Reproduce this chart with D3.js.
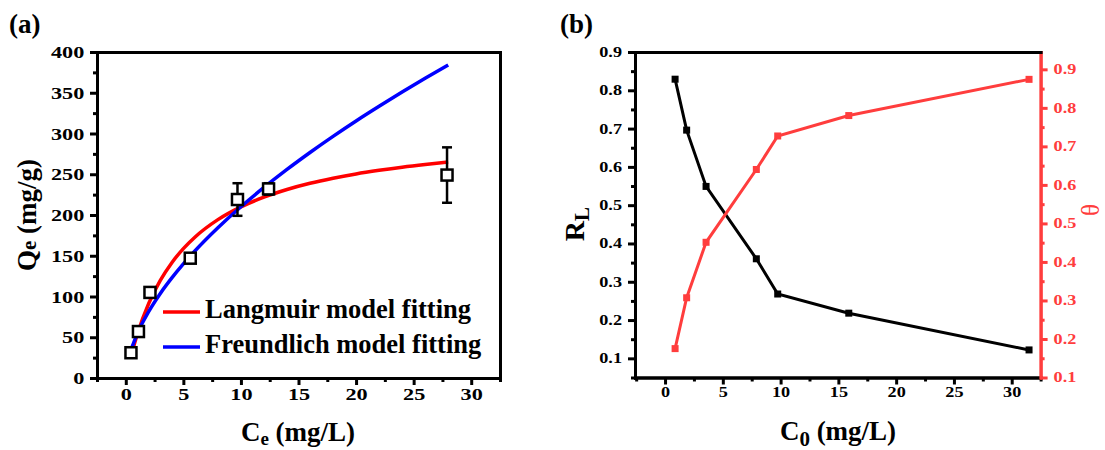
<!DOCTYPE html>
<html>
<head>
<meta charset="utf-8">
<style>
  body { margin: 0; background: #fff; }
  text { font-family: "Liberation Serif", "Times New Roman", serif; font-weight: bold; }
  .axis path, .axis line { stroke-width: 3; }
  .axis path { stroke-linecap: square; }
</style>
</head>
<body>
<script src="https://cdn.jsdelivr.net/npm/d3@7/dist/d3.min.js"></script>
<script>

  // (a) adsorption isotherm: measured points and fitted curves
  var ceObs = [0.45, 1.1, 2.1, 5.6, 9.7, 12.4, 27.9];
  var qeObs = [31, 57, 105, 147, 219, 232, 249];
  var qeErr = [4, 5, 4, 5, 20, 7, 34];

  var fitCe = [0.5, 1, 2, 3, 4, 5, 6, 8, 10, 12, 14, 16, 18, 20, 22, 24, 26, 28];
  var langmuirQe = [29.5, 53.8, 91.7, 119.8, 141.5, 158.8, 172.8, 194.3, 210, 221.9, 231.3, 238.9, 245.1, 250.4, 254.8, 258.7, 262, 264.9];
  var freundlichQe = [36.3, 54.5, 81.8, 103.8, 122.8, 140, 155.8, 184.3, 210.1, 233.8, 255.9, 276.7, 296.5, 315.4, 333.4, 350.9, 367.8, 384.1];

  var xTicksA = [0, 5, 10, 15, 20, 25, 30];
  var yTicksA = [0, 50, 100, 150, 200, 250, 300, 350, 400];

  // (b) separation factor and surface coverage
  var c0 = [0.87, 1.87, 3.55, 7.9, 9.75, 15.9, 31.5];
  var rl = [0.829, 0.696, 0.549, 0.36, 0.268, 0.218, 0.122];
  var theta = [0.175, 0.307, 0.451, 0.64, 0.727, 0.78, 0.874];

  var xTicksB = [0, 5, 10, 15, 20, 25, 30];
  var yTicksB = [0.1, 0.2, 0.3, 0.4, 0.5, 0.6, 0.7, 0.8, 0.9];

  var red = "#ff3d3d";

  var svg = d3.select("body")
      .append("svg")
      .attr("width", 1105)
      .attr("height", 450);

  function range(a, b, step) {
    return d3.range(a, b + step / 2, step);
  }

  // draws one axis with major and minor ticks, labels are stretched sideways like the original
  function drawAxis(g, axisFn, scale, majors, minors, fmt, fontSize, sx, color) {
    var major = g.append("g").attr("class", "axis")
        .call(axisFn(scale).tickValues(majors).tickSize(7).tickSizeOuter(0).tickPadding(3).tickFormat(fmt));
    var minor = g.append("g").attr("class", "axis")
        .call(axisFn(scale).tickValues(minors).tickSize(4).tickSizeOuter(0).tickFormat(""));
    [major, minor].forEach(function (a) {
      a.selectAll("path, line").attr("stroke", color || "#000");
    });
    major.selectAll("text")
        .attr("font-size", fontSize)
        .attr("fill", color || "#000")
        .attr("font-family", null)
        .attr("transform", "scale(" + sx + ",1)");
    return major;
  }

  // ---------- panel (a) ----------
  var xA = d3.scaleLinear().domain([-2.5, 32.5]).range([97, 500]);
  var yA = d3.scaleLinear().domain([0, 400]).range([378, 52]);

  var pa = svg.append("g");

  pa.append("text").attr("x", 9).attr("y", 33).attr("font-size", 27).text("(a)");

  var line = d3.line()
      .x(function (d) { return xA(d[0]); })
      .y(function (d) { return yA(d[1]); })
      .curve(d3.curveMonotoneX);

  pa.append("path")
      .datum(d3.zip(fitCe, langmuirQe))
      .attr("d", line)
      .attr("fill", "none")
      .attr("stroke", "#ff0000")
      .attr("stroke-width", 3.5);

  pa.append("path")
      .datum(d3.zip(fitCe, freundlichQe))
      .attr("d", line)
      .attr("fill", "none")
      .attr("stroke", "#0000ff")
      .attr("stroke-width", 3.5);

  var obs = d3.zip(ceObs, qeObs, qeErr);

  var err = pa.append("g").selectAll("g")
      .data(obs)
      .enter()
      .append("g")
      .attr("stroke", "#000")
      .attr("stroke-width", 2.5);

  err.append("line")
      .attr("x1", function (d) { return xA(d[0]); })
      .attr("x2", function (d) { return xA(d[0]); })
      .attr("y1", function (d) { return yA(d[1] - d[2]); })
      .attr("y2", function (d) { return yA(d[1] + d[2]); });

  [-1, 1].forEach(function (s) {
    err.append("line")
        .attr("x1", function (d) { return xA(d[0]) - 5; })
        .attr("x2", function (d) { return xA(d[0]) + 5; })
        .attr("y1", function (d) { return yA(d[1] + s * d[2]); })
        .attr("y2", function (d) { return yA(d[1] + s * d[2]); });
  });

  pa.append("g").selectAll("rect")
      .data(obs)
      .enter()
      .append("rect")
      .attr("x", function (d) { return xA(d[0]) - 5.5; })
      .attr("y", function (d) { return yA(d[1]) - 5.5; })
      .attr("width", 11)
      .attr("height", 11)
      .attr("fill", "#fff")
      .attr("stroke", "#000")
      .attr("stroke-width", 2.5);

  drawAxis(pa.append("g").attr("transform", "translate(0," + yA(0) + ")"),
      d3.axisBottom, xA, xTicksA, range(-2.5, 32.5, 2.5).filter(function (v) { return v % 5 !== 0; }),
      d3.format("d"), 17.5, 1.27);
  drawAxis(pa.append("g").attr("transform", "translate(" + xA(-2.5) + ",0)"),
      d3.axisLeft, yA, yTicksA, range(25, 375, 50), d3.format("d"), 17.5, 1.27);
  pa.append("g").attr("class", "axis").attr("transform", "translate(0," + yA(400) + ")")
      .call(d3.axisTop(xA).tickValues([]).tickSizeOuter(0));
  pa.append("g").attr("class", "axis").attr("transform", "translate(" + xA(32.5) + ",0)")
      .call(d3.axisRight(yA).tickValues([]).tickSizeOuter(0));

  // legend
  var legA = [["Langmuir model fitting", "#ff0000", 312], ["Freundlich model fitting", "#0000ff", 347]];
  legA.forEach(function (l) {
    pa.append("line").attr("x1", 163).attr("x2", 200).attr("y1", l[2]).attr("y2", l[2])
        .attr("stroke", l[1]).attr("stroke-width", 3.5);
    pa.append("text").attr("x", 205).attr("y", l[2] + 6).attr("font-size", 26.5).text(l[0]);
  });

  var xtA = pa.append("text").attr("x", 298).attr("y", 441).attr("font-size", 27).attr("text-anchor", "middle");
  xtA.append("tspan").text("C");
  xtA.append("tspan").attr("font-size", 19).attr("dy", 4).text("e");
  xtA.append("tspan").attr("dy", -4).text(" (mg/L)");

  var ytA = pa.append("text").attr("transform", "translate(36,215) rotate(-90)")
      .attr("font-size", 27).attr("text-anchor", "middle");
  ytA.append("tspan").text("Q");
  ytA.append("tspan").attr("font-size", 21).text("e");
  ytA.append("tspan").text(" (mg/g)");

  // ---------- panel (b) ----------
  var xB = d3.scaleLinear().domain([-2.6, 32.5]).range([635, 1040.6]);
  var yL = d3.scaleLinear().domain([0.05, 0.9]).range([377.5, 52]);
  var yR = d3.scaleLinear().domain([0.1, 0.945]).range([377.5, 52]);

  var pb = svg.append("g");

  pb.append("text").attr("x", 560).attr("y", 33).attr("font-size", 27).text("(b)");

  function series(yScale, values, color) {
    var pts = d3.zip(c0, values);
    pb.append("path")
        .datum(pts)
        .attr("d", d3.line()
            .x(function (d) { return xB(d[0]); })
            .y(function (d) { return yScale(d[1]); }))
        .attr("fill", "none")
        .attr("stroke", color)
        .attr("stroke-width", 3);
    pb.append("g").selectAll("rect")
        .data(pts)
        .enter()
        .append("rect")
        .attr("x", function (d) { return xB(d[0]) - 3.5; })
        .attr("y", function (d) { return yScale(d[1]) - 3.5; })
        .attr("width", 7)
        .attr("height", 7)
        .attr("fill", color);
  }

  series(yL, rl, "#000");
  series(yR, theta, red);

  var fmtB = d3.format(".1f");
  drawAxis(pb.append("g").attr("transform", "translate(0,377.5)"),
      d3.axisBottom, xB, xTicksB, range(-2.5, 32.5, 2.5).filter(function (v) { return v % 5 !== 0; }),
      d3.format("d"), 14, 1.3);
  drawAxis(pb.append("g").attr("transform", "translate(" + xB.range()[0] + ",0)"),
      d3.axisLeft, yL, yTicksB, range(0.05, 0.85, 0.1), fmtB, 14, 1.3);
  drawAxis(pb.append("g").attr("transform", "translate(" + xB.range()[1] + ",0)"),
      d3.axisRight, yR, yTicksB, range(0.15, 0.85, 0.1), fmtB, 14, 1.3, red);
  pb.append("g").attr("class", "axis").attr("transform", "translate(0,52)")
      .call(d3.axisTop(xB).tickValues([]).tickSizeOuter(0));

  var xtB = pb.append("text").attr("x", 838).attr("y", 440).attr("font-size", 27).attr("text-anchor", "middle");
  xtB.append("tspan").text("C");
  xtB.append("tspan").attr("font-size", 21).attr("dy", 6).text("0");
  xtB.append("tspan").attr("dy", -6).text(" (mg/L)");

  var ytB = pb.append("text").attr("transform", "translate(584,224) rotate(-90)")
      .attr("font-size", 28).attr("text-anchor", "middle");
  ytB.append("tspan").text("R");
  ytB.append("tspan").attr("font-size", 21).attr("dy", 5).text("L");

  pb.append("text").attr("transform", "translate(1099,210) rotate(-90)")
      .attr("font-size", 25).style("font-weight", "normal").attr("fill", red)
      .attr("text-anchor", "middle").text("θ");

</script>
</body>
</html>
